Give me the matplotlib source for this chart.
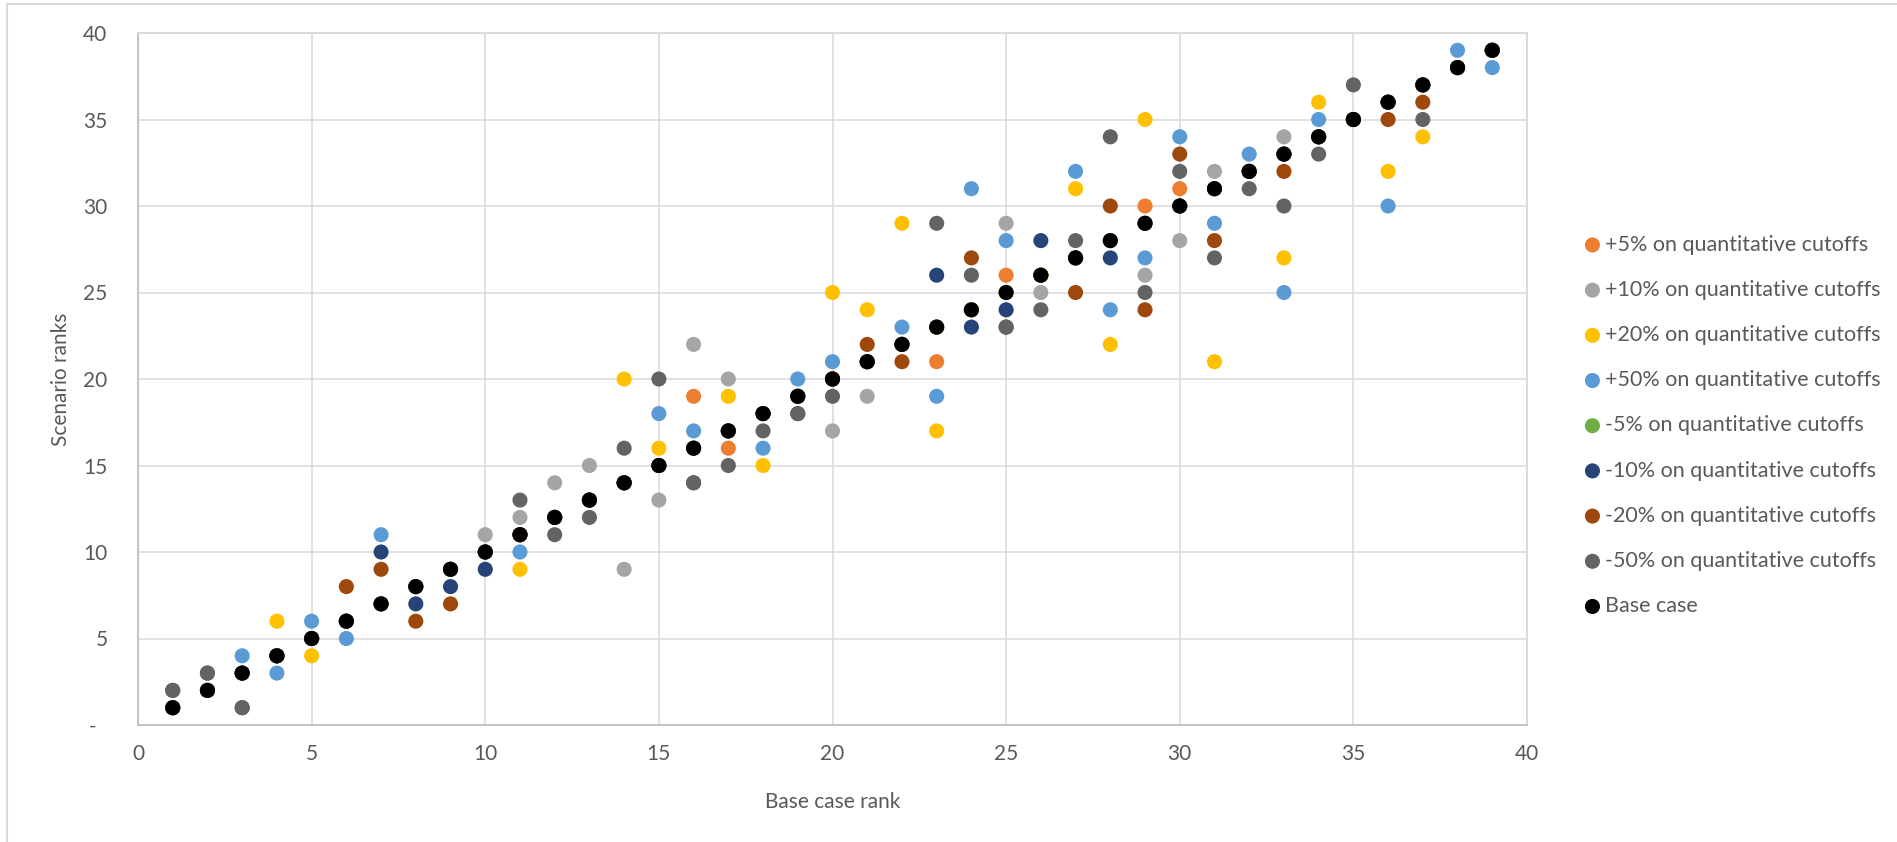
import matplotlib
matplotlib.use("Agg")
import matplotlib.pyplot as plt
from matplotlib.patches import Rectangle

plt.rcParams['font.family'] = ['Lato', 'DejaVu Sans']

# base case rank (x) for the 39 options
base_rank = [1, 2, 3, 4, 5, 6, 7, 8, 9, 10, 11, 12, 13, 14, 15, 16, 17, 18, 19, 20,
             21, 22, 23, 24, 25, 26, 27, 28, 29, 30, 31, 32, 33, 34, 35, 36, 37, 38, 39]

# scenario ranks (hidden dots assumed on the base rank)
plus5 = [1, 2, 3, 4, 5, 6, 7, 8, 9, 10, 11, 12, 13, 14, 15, 19, 16, 18, 19, 20,
         21, 22, 21, 24, 26, 26, 27, 28, 30, 31, 31, 32, 33, 34, 35, 36, 37, 38, 39]
plus10 = [1, 2, 3, 4, 5, 6, 7, 8, 9, 11, 12, 14, 15, 9, 13, 22, 20, 18, 19, 17,
          19, 22, 23, 24, 29, 25, 27, 28, 26, 28, 32, 32, 34, 34, 35, 36, 37, 38, 39]
plus20 = [1, 2, 3, 6, 4, 6, 7, 8, 9, 10, 9, 12, 13, 20, 16, 16, 19, 15, 19, 25,
          24, 29, 17, 24, 25, 26, 31, 22, 35, 30, 21, 32, 27, 36, 35, 32, 34, 38, 39]
plus50 = [1, 2, 4, 3, 6, 5, 11, 8, 9, 10, 10, 12, 13, 14, 18, 17, 17, 16, 20, 21,
          21, 23, 19, 31, 28, 26, 32, 24, 27, 34, 29, 33, 25, 35, 35, 30, 37, 39, 38]
minus5 = [1, 2, 3, 4, 5, 6, 7, 8, 9, 10, 11, 12, 13, 14, 15, 16, 17, 18, 19, 20,
          21, 22, 23, 24, 25, 26, 27, 28, 29, 30, 31, 32, 33, 34, 35, 36, 37, 38, 39]
minus10 = [1, 2, 3, 4, 5, 6, 10, 7, 8, 9, 11, 12, 13, 14, 15, 16, 17, 18, 19, 20,
           21, 22, 26, 23, 24, 28, 27, 27, 29, 30, 31, 32, 33, 34, 35, 36, 37, 38, 39]
minus20 = [2, 3, 1, 4, 5, 8, 9, 6, 7, 10, 11, 12, 13, 14, 15, 14, 17, 18, 18, 20,
           22, 21, 23, 27, 23, 26, 25, 30, 24, 33, 28, 32, 32, 34, 35, 35, 36, 38, 39]
minus50 = [2, 3, 1, 4, 5, 6, 7, 8, 9, 10, 13, 11, 12, 16, 20, 14, 15, 17, 18, 19,
           21, 22, 29, 26, 23, 24, 28, 34, 25, 32, 27, 31, 30, 33, 37, 36, 35, 38, 39]

series = [
    ('+5% on quantitative cutoffs', plus5, '#ED7D31'),
    ('+10% on quantitative cutoffs', plus10, '#A5A5A5'),
    ('+20% on quantitative cutoffs', plus20, '#FFC000'),
    ('+50% on quantitative cutoffs', plus50, '#5B9BD5'),
    ('-5% on quantitative cutoffs', minus5, '#70AD47'),
    ('-10% on quantitative cutoffs', minus10, '#264478'),
    ('-20% on quantitative cutoffs', minus20, '#9E480E'),
    ('-50% on quantitative cutoffs', minus50, '#636363'),
    ('Base case', base_rank, '#000000'),
]

grid_c = '#D9D9D9'
text_c = '#595959'

fig = plt.figure(figsize=(18.97, 8.42), dpi=100)
# chart area border (only top/left edges fall inside the image)
fig.patches.append(Rectangle((7/1897, -0.1), 1.2, 1.1 - 4/842, transform=fig.transFigure,
                             fill=False, ec=grid_c, lw=1.5))

ax = fig.add_axes([138/1897, 117/842, 1389/1897, 692/842])
for i, (lab, ys, col) in enumerate(series):
    ax.scatter(base_rank, ys, s=118, color=col, edgecolors='none', label=lab, zorder=3 + i)

ax.set_xlim(0, 40)
ax.set_ylim(0, 40)
ax.set_xticks(range(0, 41, 5))
ax.set_yticks(range(0, 41, 5))
ax.set_yticklabels(['-  '] + [str(v) for v in range(5, 41, 5)])
ax.grid(True, color=grid_c, lw=1.1, zorder=0)
ax.tick_params(length=0, labelsize=15, labelcolor=text_c)
ax.tick_params(axis='x', pad=14)
ax.tick_params(axis='y', pad=22)
for sp in ax.spines.values():
    sp.set_color(grid_c)
    sp.set_linewidth(1.3)
ax.spines['left'].set_color('#BFBFBF')
ax.spines['bottom'].set_color('#BFBFBF')

ax.set_xlabel('Base case rank', fontsize=15, color=text_c, labelpad=20)
ax.set_ylabel('Scenario ranks', fontsize=15, color=text_c, labelpad=9)

fig.legend(loc='upper left', bbox_to_anchor=(1572/1897, 1 - 226/842), frameon=False,
           fontsize=15.5, labelcolor=text_c, handletextpad=0.05, labelspacing=1.17,
           scatterpoints=1, borderaxespad=0, handlelength=1.1)

fig.savefig('out.png', dpi=100, facecolor='white')
